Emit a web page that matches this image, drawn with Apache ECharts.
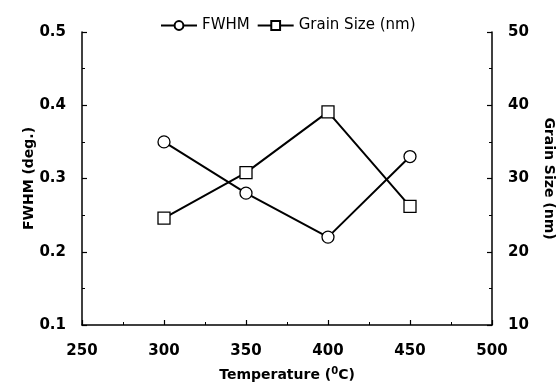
<!DOCTYPE html>
<html>
<head>
<meta charset="utf-8">
<script src="https://cdn.jsdelivr.net/npm/echarts@6/dist/echarts.min.js"></script>
<style>
html,body{margin:0;padding:0;background:#fff;}
#chart{width:557px;height:383px;}
</style>
</head>
<body>
<div id="chart"></div>
<script>
const temperatures = [300, 350, 400, 450];
const fwhm = [0.35, 0.28, 0.22, 0.33];
const grainSize = [24.6, 30.8, 39.1, 26.2];
const seriesNames = ['FWHM', 'Grain Size (nm)'];
const xRange = [250, 500, 50];
const fwhmRange = [0.1, 0.5, 0.1];
const grainRange = [10, 50, 10];

const chart = echarts.init(document.getElementById('chart'), null, {renderer: 'canvas'});
const tickFont = {fontFamily: 'DejaVu Sans', fontWeight: 'bold', fontSize: 15, color: '#000'};
const nameFont = {fontFamily: 'DejaVu Sans', fontWeight: 'bold', fontSize: 14, color: '#000'};
const axisCommon = {
  axisLine: {show: true, onZero: false, lineStyle: {color: '#000', width: 1.5}},
  axisTick: {show: true, inside: true, length: 5, lineStyle: {color: '#000', width: 1.2}},
  minorTick: {show: true, splitNumber: 2, length: 3, lineStyle: {color: '#000', width: 1}},
  splitLine: {show: false},
  nameMoveOverlap: false
};
const markerStyle = {color: '#fff', borderColor: '#000', borderWidth: 1.3};

chart.setOption({
  animation: false,
  backgroundColor: '#fff',
  grid: {left: 82, right: 65, top: 32, bottom: 58, containLabel: false, outerBoundsMode: 'none'},
  legend: {
    left: 155, top: 13,
    itemWidth: 36, itemHeight: 11, itemGap: 7,
    textStyle: {fontFamily: 'DejaVu Sans', fontSize: 15, color: '#000'},
    data: seriesNames
  },
  xAxis: Object.assign({
    type: 'value', min: xRange[0], max: xRange[1], interval: xRange[2],
    name: 'Temperature ({sup|0}C)', nameLocation: 'middle', nameGap: 41,
    nameTextStyle: Object.assign({}, nameFont, {rich: {sup: {fontFamily: 'DejaVu Sans', fontWeight: 'bold', fontSize: 10, verticalAlign: 'top', padding: [0, 0, 8, 0]}}}),
    axisLabel: Object.assign({margin: 19}, tickFont)
  }, axisCommon),
  yAxis: [
    Object.assign({
      type: 'value', min: fwhmRange[0], max: fwhmRange[1], interval: fwhmRange[2], position: 'left',
      name: 'FWHM (deg.)', nameLocation: 'middle', nameGap: 46, nameRotate: 90,
      nameTextStyle: nameFont,
      axisLabel: Object.assign({margin: 16, formatter: v => v.toFixed(1)}, tickFont)
    }, axisCommon),
    Object.assign({
      type: 'value', min: grainRange[0], max: grainRange[1], interval: grainRange[2], position: 'right',
      name: 'Grain Size (nm)', nameLocation: 'middle', nameGap: 50, nameRotate: -90,
      nameTextStyle: nameFont,
      axisLabel: Object.assign({margin: 16}, tickFont)
    }, axisCommon)
  ],
  series: [
    {
      name: seriesNames[0], type: 'line', yAxisIndex: 0,
      data: temperatures.map((t, i) => [t, fwhm[i]]),
      symbol: 'circle', symbolSize: 12,
      lineStyle: {color: '#000', width: 2},
      itemStyle: markerStyle, z: 3
    },
    {
      name: seriesNames[1], type: 'line', yAxisIndex: 1,
      data: temperatures.map((t, i) => [t, grainSize[i]]),
      symbol: 'rect', symbolSize: 12,
      lineStyle: {color: '#000', width: 2},
      itemStyle: markerStyle, z: 3
    }
  ]
});
</script>
</body>
</html>
